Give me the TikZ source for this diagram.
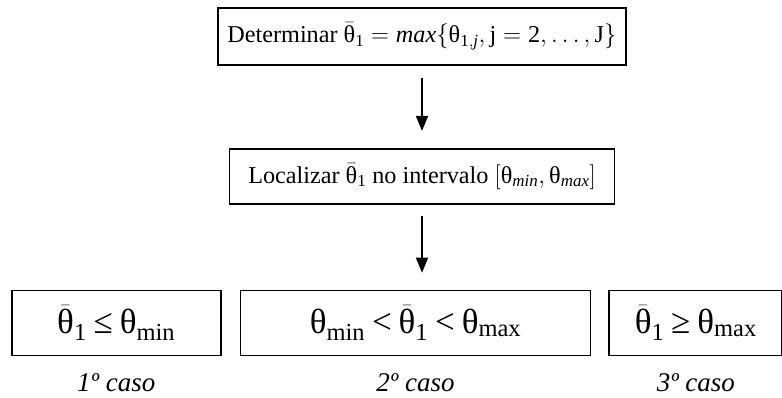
\documentclass[tikz,border=0pt]{standalone}
\usepackage{fontspec}
\setmainfont{Liberation Serif}
\usetikzlibrary{arrows.meta,positioning}
\definecolor{Ink}{HTML}{000000}
\definecolor{Paper}{HTML}{FFFFFF}
\newcommand{\thb}{\bar{\mbox{θ}}}
\newcommand{\tht}{\mbox{θ}}
\newcommand{\rel}[1]{\mathrel{\mbox{#1}}}
\tikzset{
  stepbox/.style={
    draw=Ink, line width=1.8pt, fill=Paper, inner sep=0pt,
    align=center, font=\fontsize{24.2}{28}\selectfont
  },
  casebox/.style={
    stepbox, minimum height=65pt, font=\fontsize{35}{40}\selectfont
  },
  caselabel/.style={
    inner sep=0pt, font=\fontsize{27}{30}\selectfont\itshape
  },
  flow/.style={-{Triangle[length=15pt,width=12pt]}, line width=1.8pt, draw=Ink}
}
\begin{document}
\begin{tikzpicture}
  \useasboundingbox (0,0) rectangle (782pt,398pt);
  \node[stepbox,minimum width=408pt,minimum height=57pt] (det) at (422pt,361.5pt)
    {Determinar $\thb_{\mathrm{1}} = \mathit{max}\{\tht_{\mathrm{1},\mathit{j}}, \mathrm{j} = \mathrm{2}, \ldots, \mathrm{J}\}$};
  \node[stepbox,below=82pt of det,minimum width=385pt,minimum height=55pt] (loc)
    {Localizar $\thb_{\mathrm{1}}$ no intervalo $[\tht_{\mathit{min}}, \tht_{\mathit{max}}]$};
  \node[casebox,below=85pt of loc,xshift=-6.5pt,minimum width=350pt] (mid)
    {$\tht_{\mathrm{min}} \rel{<} \thb_{\mathrm{1}} \rel{<} \tht_{\mathrm{max}}$};
  \node[casebox,left=18pt of mid,minimum width=209pt] (low)
    {$\thb_{\mathrm{1}} \rel{≤} \tht_{\mathrm{min}}$};
  \node[casebox,right=17pt of mid,minimum width=173pt] (high)
    {$\thb_{\mathrm{1}} \rel{≥} \tht_{\mathrm{max}}$};
  \node[caselabel,below=17pt of low] (lowlbl) {1º caso};
  \node[caselabel,below=17pt of mid] (midlbl) {2º caso};
  \node[caselabel,below=17pt of high] (highlbl) {3º caso};
  \draw[flow,shorten <=12pt,shorten >=17pt] (det.south) -- (loc.north);
  \draw[flow,shorten <=11pt,shorten >=17pt] (loc.south) -- (loc.south |- mid.north);
\end{tikzpicture}
\end{document}
